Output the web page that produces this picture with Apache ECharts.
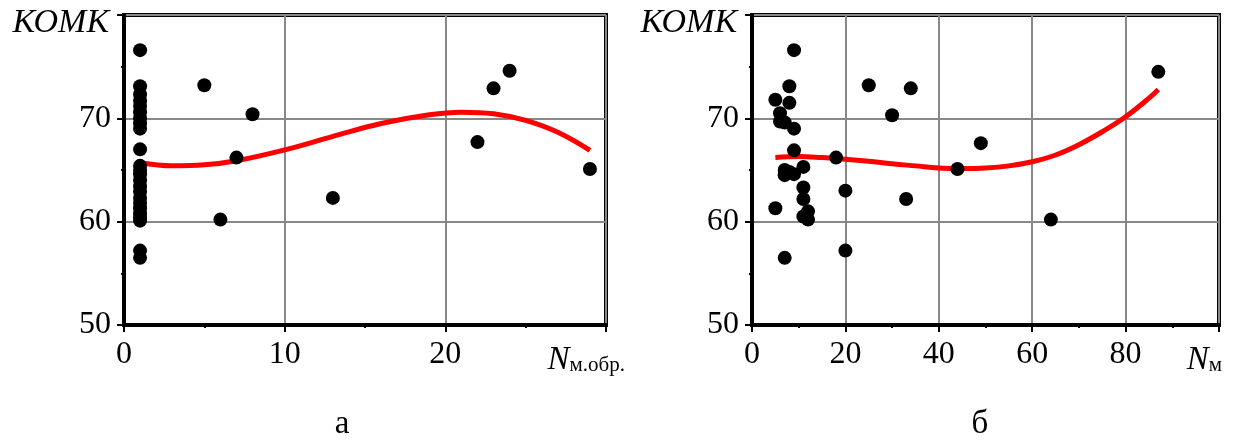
<!DOCTYPE html>
<html>
<head>
<meta charset="utf-8">
<script src="https://cdn.jsdelivr.net/npm/echarts@6/dist/echarts.min.js"></script>
<style>
  html, body { margin: 0; padding: 0; background: #fff; }
  #chart { width: 1235px; height: 445px; }
</style>
</head>
<body>
<div id="chart"></div>
<script>
// Panel "а": КОМК against N м.обр.
const obrX = [1, 1, 1, 1, 1, 1, 1, 1, 1, 1, 1, 1, 1, 1, 1, 1, 1, 1, 1, 1, 1, 1, 1, 1,
              5, 6, 7, 8, 13, 22, 23, 24, 29];
const obrY = [76.6, 73.1, 72.3, 71.7, 71.2, 70.6, 70.0, 69.5, 69.0, 67.0, 65.4, 65.0,
              64.6, 64.0, 63.4, 62.9, 62.3, 61.8, 61.3, 60.8, 60.4, 60.1, 57.2, 56.5,
              73.2, 60.2, 66.2, 70.4, 62.3, 67.7, 72.9, 74.6, 65.1];
// trend curve for panel "а"
const obrFitX = [1, 3, 5, 7, 10, 13, 16, 19, 21, 23, 25, 27, 29];
const obrFitY = [65.7, 65.4, 65.5, 65.9, 66.95, 68.25, 69.5, 70.35, 70.6, 70.45, 69.8, 68.65, 66.9];

// Panel "б": КОМК against N м
const mX = [9, 8, 25, 34, 5, 8, 6, 30, 6, 7, 9, 9, 18, 11, 7, 8, 7, 9, 11, 20,
            11, 33, 5, 12, 11, 12, 20, 7, 87, 49, 44, 64];
const mY = [76.6, 73.1, 73.2, 72.9, 71.8, 71.5, 70.5, 70.3, 69.7, 69.6, 69.0, 66.9,
            66.2, 65.3, 65.0, 64.8, 64.5, 64.6, 63.3, 63.0, 62.2, 62.2, 61.3, 61.0,
            60.5, 60.2, 57.2, 56.5, 74.5, 67.6, 65.1, 60.2];
// trend curve for panel "б"
const mFitX = [5, 10, 15, 20, 25, 30, 35, 40, 45, 50, 55, 60, 65, 70, 75, 80, 85, 87];
const mFitY = [66.2, 66.3, 66.2, 66.05, 65.85, 65.6, 65.4, 65.2, 65.15, 65.2, 65.4, 65.8,
               66.45, 67.45, 68.7, 70.15, 71.95, 72.8];

const yMin = 50, yMax = 80, yStep = 10;
const obrMax = 30, obrStep = 10;
const mMax = 100, mStep = 20;

const FONT = "'Liberation Serif', 'Times New Roman', serif";
const FS = 32;

const zip = (xs, ys) => xs.map((x, i) => [x, ys[i]]);

function xAxisCfg(grid, max, interval, subscript, nameGap) {
  return {
    type: 'value', gridIndex: grid, min: 0, max: max, interval: interval,
    axisLine: { show: true, lineStyle: { color: '#000', width: 4 } },
    axisTick: { show: true, length: 7, lineStyle: { color: '#000', width: 2 } },
    minorTick: { show: true, splitNumber: 2, length: 3, lineStyle: { color: '#000', width: 2 } },
    splitLine: { show: true, lineStyle: { color: '#888', width: 2 } },
    axisLabel: { color: '#000', fontFamily: FONT, fontSize: FS, margin: 14, showMaxLabel: false },
    name: '{n|N}{s|' + subscript + '}',
    nameLocation: 'end',
    nameGap: nameGap,
    nameTextStyle: {
      align: 'right', verticalAlign: 'top', padding: [19, 0, 0, 0],
      rich: {
        n: { fontFamily: FONT, fontSize: 33, fontStyle: 'italic', color: '#000', verticalAlign: 'bottom' },
        s: { fontFamily: FONT, fontSize: 21, color: '#000', verticalAlign: 'bottom', padding: [0, 0, 1, 0] }
      }
    }
  };
}

function yAxisCfg(grid) {
  return {
    type: 'value', gridIndex: grid, min: yMin, max: yMax, interval: yStep,
    axisLine: { show: true, lineStyle: { color: '#000', width: 4 } },
    axisTick: { show: true, length: 7, lineStyle: { color: '#000', width: 2 } },
    minorTick: { show: true, splitNumber: 2, length: 3, lineStyle: { color: '#000', width: 2 } },
    splitLine: { show: true, lineStyle: { color: '#888', width: 2 } },
    axisLabel: { color: '#000', fontFamily: FONT, fontSize: FS, margin: 13, showMaxLabel: false },
    name: 'КОМК',
    nameLocation: 'end',
    nameGap: -8,
    nameTextStyle: {
      color: '#000', fontFamily: FONT, fontSize: 34, fontStyle: 'italic',
      align: 'right', verticalAlign: 'middle', padding: [0, 15, 0, 0]
    }
  };
}

function scatter(i, data) {
  return {
    type: 'scatter', xAxisIndex: i, yAxisIndex: i, data: data,
    symbol: 'circle', symbolSize: 14, itemStyle: { color: '#000', opacity: 1 }, z: 5,
    silent: true
  };
}
function curve(i, data) {
  return {
    type: 'line', xAxisIndex: i, yAxisIndex: i, data: data, smooth: 0.4,
    showSymbol: false, lineStyle: { color: '#ff0000', width: 5 }, z: 3, silent: true
  };
}

const chart = echarts.init(document.getElementById('chart'), null, { renderer: 'canvas' });
chart.setOption({
  animation: false,
  backgroundColor: '#fff',
  textStyle: { fontFamily: FONT },
  title: [
    { text: 'а', left: 337, top: 403, textAlign: 'center',
      textStyle: { fontFamily: FONT, fontSize: 33, fontWeight: 'normal', color: '#000' } },
    { text: 'б', left: 975, top: 403, textAlign: 'center',
      textStyle: { fontFamily: FONT, fontSize: 33, fontWeight: 'normal', color: '#000' } }
  ],
  grid: [
    { left: 124, top: 15, width: 482, height: 310, show: true, borderColor: '#000', borderWidth: 4, backgroundColor: 'transparent' },
    { left: 752, top: 15, width: 467, height: 310, show: true, borderColor: '#000', borderWidth: 4, backgroundColor: 'transparent' }
  ],
  xAxis: [
    xAxisCfg(0, obrMax, obrStep, 'м.обр.', 19),
    xAxisCfg(1, mMax, mStep, 'м', 3)
  ],
  yAxis: [yAxisCfg(0), yAxisCfg(1)],
  series: [
    curve(0, zip(obrFitX, obrFitY)),
    scatter(0, zip(obrX, obrY)),
    curve(1, zip(mFitX, mFitY)),
    scatter(1, zip(mX, mY))
  ]
});
</script>
</body>
</html>
